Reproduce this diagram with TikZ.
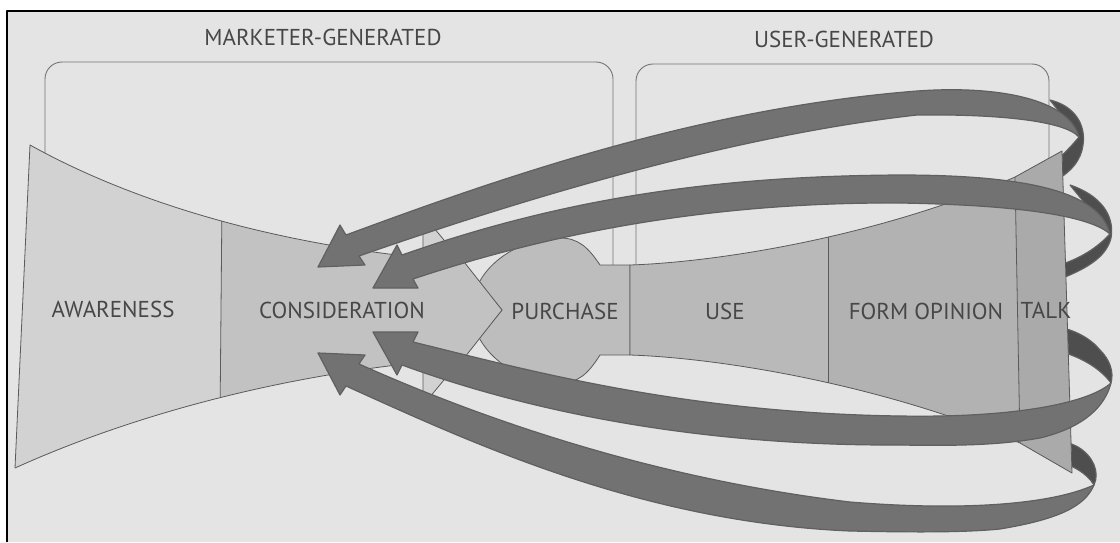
\documentclass[tikz,border=0pt]{standalone}
\usepackage{fontspec}
\setmainfont{PT Sans}
\usetikzlibrary{calc}
\definecolor{paper}{HTML}{E4E4E4}
\definecolor{awarec}{HTML}{D2D2D2}
\definecolor{considc}{HTML}{C2C2C2}
\definecolor{purchc}{HTML}{BDBDBD}
\definecolor{usec}{HTML}{B9B9B9}
\definecolor{formc}{HTML}{B2B2B2}
\definecolor{talkc}{HTML}{AAAAAA}
\definecolor{ribbonc}{HTML}{727272}
\definecolor{ribbonback}{HTML}{4E4E4E}
\definecolor{edgec}{HTML}{5A5A5A}
\definecolor{textc}{HTML}{474747}
\tikzset{
  edge/.style={draw=edgec, line width=0.8pt},
  boxline/.style={draw=edgec!85, line width=0.9pt, rounded corners=17pt},
  stagelabel/.style={inner sep=0pt, text=textc, font=\fontsize{23}{23}\selectfont},
  ribbonfront/.style={fill=ribbonc, draw=ribbonback!90, line width=1.2pt},
  ribbonflap/.style={fill=ribbonback, draw=ribbonback!90, line width=1.2pt},
}
% outlines of the two funnel bodies
\def\leftfunnel{(30,145) .. controls (120,195) and (250,240) .. (423,258) -- (461,258) -- (502,310) -- (461,362) -- (423,362) .. controls (250,380) and (110,425) .. (15,468) -- cycle}
\def\rightfunnel{(630,265) .. controls (720,262) and (880,236) .. (1015,177) -- (1062,151) -- (1072,473) -- (1020,443) .. controls (880,384) and (720,358) .. (630,355) -- cycle}
\begin{document}
\begin{tikzpicture}[x=1pt, y=-1pt, line join=round]
\useasboundingbox (0,0) rectangle (1120,542);
\fill[white] (0,0) rectangle (1120,542);
\fill[paper] (7,11) rectangle (1120,542);
\draw[black, line width=2pt] (7,542) -- (7,11) -- (1120,11);

% group brackets
\draw[boxline] (45,300) -- (45,62) -- (613,62) -- (613,300);
\draw[boxline] (636,300) -- (636,64) -- (1049,64) -- (1049,300);

% back sides of the ribbons, passing behind the TALK column
\path[ribbonflap] (1050,100) .. controls (1075,106) and (1086,125) .. (1083,145) .. controls (1081,160) and (1072,172) .. (1050,184) -- (1045,170) .. controls (1058,160) and (1070,148) .. (1079,137) -- cycle;
\path[ribbonflap] (1070,185) .. controls (1100,195) and (1115,215) .. (1111,238) .. controls (1106,258) and (1085,270) .. (1052,282) -- (1048,268) .. controls (1075,262) and (1095,250) .. (1110,234) -- cycle;
\path[ribbonflap] (1111,383) .. controls (1114,372) and (1110,360) .. (1100,350) .. controls (1090,338) and (1075,330) .. (1055,326) -- (1055,350) .. controls (1080,356) and (1100,368) .. (1111,383) -- cycle;
\path[ribbonflap] (1094,485) .. controls (1100,472) and (1093,456) .. (1078,447) .. controls (1070,443) and (1062,440) .. (1055,439) -- (1055,460) .. controls (1072,465) and (1087,473) .. (1094,485) -- cycle;

% purchase disc
\path[edge, fill=purchc] (600,265) .. controls (588,247) and (578,238) .. (560,238) .. controls (515,238) and (472,270) .. (472,310) .. controls (472,350) and (515,383) .. (560,383) .. controls (578,383) and (588,374) .. (600,355) -- (630,355) -- (630,265) -- cycle;

% chevron behind consideration
\path[edge, fill=awarec] (423,222) -- (429,222) -- (502,310) -- (429,398) -- (423,398) -- cycle;

% awareness and consideration
\begin{scope}
  \clip \leftfunnel;
  \fill[awarec] (0,100) rectangle (221,520);
  \fill[considc] (221,100) rectangle (520,520);
  \draw[edge] (222,200) -- (220,420);
\end{scope}
\draw[edge] (15,468) -- (30,145) .. controls (120,195) and (250,240) .. (423,258);
\draw[edge] (423,362) .. controls (250,380) and (110,425) .. (15,468);
\draw[edge] (461,258) -- (502,310) -- (461,362);

% use, form opinion and talk
\begin{scope}
  \clip \rightfunnel;
  \fill[usec] (600,100) rectangle (1100,520);
  \fill[formc] (828,100) rectangle (1100,520);
  \fill[talkc] (1014.3,140) -- (1020.7,480) -- (1100,480) -- (1100,140) -- cycle;
  \draw[edge] (828,200) -- (828,420);
  \draw[edge] (1014.3,140) -- (1020.7,480);
\end{scope}
\draw[edge] \rightfunnel;

% stage and group labels
\node[stagelabel] (mg) at (323,37) {MARKETER-GENERATED};
\node[stagelabel] (ug) at (844,39) {USER-GENERATED};
\node[stagelabel] (aw) at (113,309) {AWARENESS};
\node[stagelabel] (co) at (342,310) {CONSIDERATION};
\node[stagelabel] (pu) at (565,311) {PURCHASE};
\node[stagelabel] (us) at (725,311) {USE};
\node[stagelabel] (fo) at (926,311) {FORM OPINION};
\node[stagelabel] (ta) at (1046,310) {TALK};

% front sides of the ribbon arrows, heads included
\path[ribbonfront] (318,267) -- (340,225) -- (346,235) .. controls (500,178) and (700,108) .. (917,91) .. controls (1000,85) and (1070,100) .. (1079,137) .. controls (1065,121) and (1000,114) .. (917,115) .. controls (720,137) and (500,207) .. (359,256) -- (365,265) -- cycle;
\path[ribbonfront] (373,288) -- (397,245) -- (402,255) .. controls (550,203) and (700,176) .. (900,175) .. controls (1020,175) and (1100,190) .. (1110,234) .. controls (1090,216) and (1020,205) .. (900,203) .. controls (720,202) and (560,230) .. (413,279) -- (418,288) -- cycle;
\path[ribbonfront] (373,332) -- (418,332) -- (413,342) .. controls (520,368) and (680,413) .. (900,416) .. controls (1020,418) and (1090,402) .. (1111,383) .. controls (1105,406) and (1085,427) .. (1040,438) .. controls (1000,445) and (960,446) .. (900,445) .. controls (700,446) and (530,412) .. (402,365) -- (397,375) -- cycle;
\path[ribbonfront] (318,353) -- (365,355) -- (359,364) .. controls (480,418) and (650,478) .. (850,502) .. controls (960,511) and (1050,505) .. (1094,485) .. controls (1085,506) and (1060,519) .. (1000,529) .. controls (960,533) and (900,532) .. (850,531) .. controls (640,522) and (470,442) .. (346,386) -- (340,395) -- cycle;
\end{tikzpicture}
\end{document}
